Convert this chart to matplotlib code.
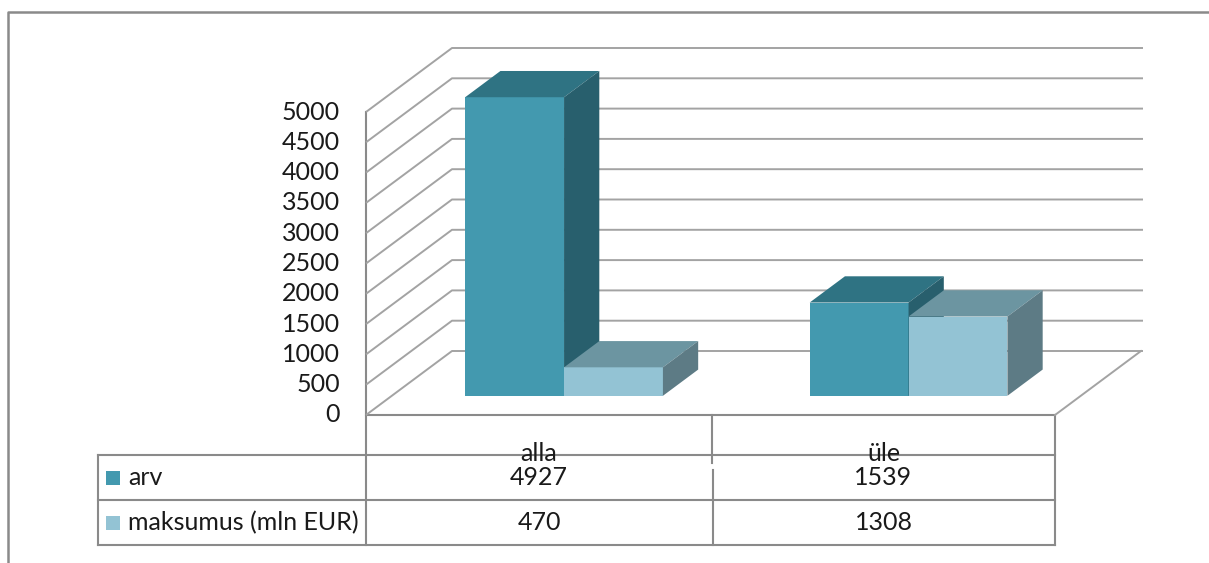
import matplotlib.pyplot as plt
from matplotlib.patches import Polygon, Rectangle

# dados
categorias = ["alla", "üle"]
series = ["arv", "maksumus (mln EUR)"]
arv = [4927, 1539]
maksumus = [470, 1308]
valores = [arv, maksumus]
ticks = list(range(0, 5001, 500))

# cores (frente, topo, lado)
cores = [("#4399AF", "#2F7383", "#285F6D"),
         ("#93C3D4", "#6C95A1", "#5D7B85")]
cinza_grade = "#A3A3A3"
cinza_borda = "#8A8A8A"

W, H = 1209, 563
fig = plt.figure(figsize=(W / 100, H / 100), dpi=100)
plt.rcParams['font.family'] = ['Lato', 'DejaVu Sans']
fs = 18

# eixo de fundo em pixels (borda + tabela)
bg = fig.add_axes([0, 0, 1, 1])
bg.set_xlim(0, W)
bg.set_ylim(H, 0)
bg.axis("off")

# plano frontal do grafico: x em categorias, y em valores
x0, x1 = 366, 1055
y0, y5000 = 415, 112
ax = fig.add_axes([x0 / W, (H - y0) / H, (x1 - x0) / W, (y0 - y5000) / H])
ax.set_xlim(0, len(categorias))
ax.set_ylim(0, 5000)
ax.axis("off")

# profundidade em unidades de dados
px_cat = (x1 - x0) / len(categorias)
dx = 86 / px_cat
dy = 64 / ((y0 - y5000) / 5000)
xmax_back = len(categorias) + (1143 - x1 - 86) / px_cat

# grade (parede do fundo)
for t in ticks:
    ax.plot([0, dx, xmax_back + dx], [t, t + dy, t + dy], color=cinza_grade,
            lw=1.4, clip_on=False, zorder=1, solid_capstyle="butt")
    ax.text(-26 / px_cat, t, str(t), ha="right", va="center",
            fontsize=fs, color="#1A1A1A", clip_on=False)

# piso
ax.plot([len(categorias), len(categorias) + dx], [0, dy], color=cinza_grade,
        lw=1.4, clip_on=False, zorder=1)

# barras 3D
larg = 0.287
p0, p1 = 0.30, 0.71
for i, cat in enumerate(categorias):
    centro = i + 0.5
    for s in range(len(series)):
        v = valores[s][i]
        xl = centro - larg + s * larg + p0 * dx
        xr = xl + larg
        yb = p0 * dy
        yt = yb + v
        ddx = (p1 - p0) * dx
        ddy = (p1 - p0) * dy
        frente, topo, lado = cores[s]
        ax.add_patch(Rectangle((xl, yb), larg, v, facecolor=frente,
                               edgecolor="none", clip_on=False, zorder=3))
        ax.add_patch(Polygon([(xl, yt), (xr, yt), (xr + ddx, yt + ddy), (xl + ddx, yt + ddy)],
                             facecolor=topo, edgecolor="none", clip_on=False, zorder=3))
        ax.add_patch(Polygon([(xr, yb), (xr + ddx, yb + ddy), (xr + ddx, yt + ddy), (xr, yt)],
                             facecolor=lado, edgecolor="none", clip_on=False, zorder=3))

# borda externa
bg.plot([8, 8, W + 5], [H + 5, 12, 12], color="#8A8A8A", lw=1.8)

# tabela de dados
colx = [98, 366, 712, 1055]
linhas_y = [415, 455, 500, 545]
lw_t = 1.5
bg.plot([366, 366], [112, 545], color=cinza_borda, lw=lw_t)
bg.plot([366, 1055], [415, 415], color=cinza_borda, lw=lw_t)
bg.plot([1055, 1055], [415, 545], color=cinza_borda, lw=lw_t)
bg.plot([712, 712], [415, 463], color=cinza_borda, lw=lw_t)
bg.plot([713, 713], [470, 545], color=cinza_borda, lw=lw_t)
for yy in linhas_y[1:]:
    bg.plot([98, 1055], [yy, yy], color=cinza_borda, lw=lw_t)
bg.plot([98, 98], [455, 545], color=cinza_borda, lw=lw_t)

clip = Rectangle((366, 415), 689, 40, transform=bg.transData)
for j, cat in enumerate(categorias):
    cx = (colx[j + 1] + colx[j + 2]) / 2
    t = bg.text(cx, 461, cat, ha="center", va="baseline", fontsize=fs, color="#1A1A1A")
    t.set_clip_path(clip)

for s, nome in enumerate(series):
    yc = (linhas_y[s + 1] + linhas_y[s + 2]) / 2
    bg.add_patch(Rectangle((106, yc - 7), 14, 14, facecolor=cores[s][0], edgecolor="none"))
    bg.text(128, yc, nome, ha="left", va="center", fontsize=fs, color="#1A1A1A")
    for j in range(len(categorias)):
        cx = (colx[j + 1] + colx[j + 2]) / 2
        bg.text(cx, yc, str(valores[s][j]), ha="center", va="center", fontsize=fs, color="#1A1A1A")

fig.savefig("out.png", dpi=100)
